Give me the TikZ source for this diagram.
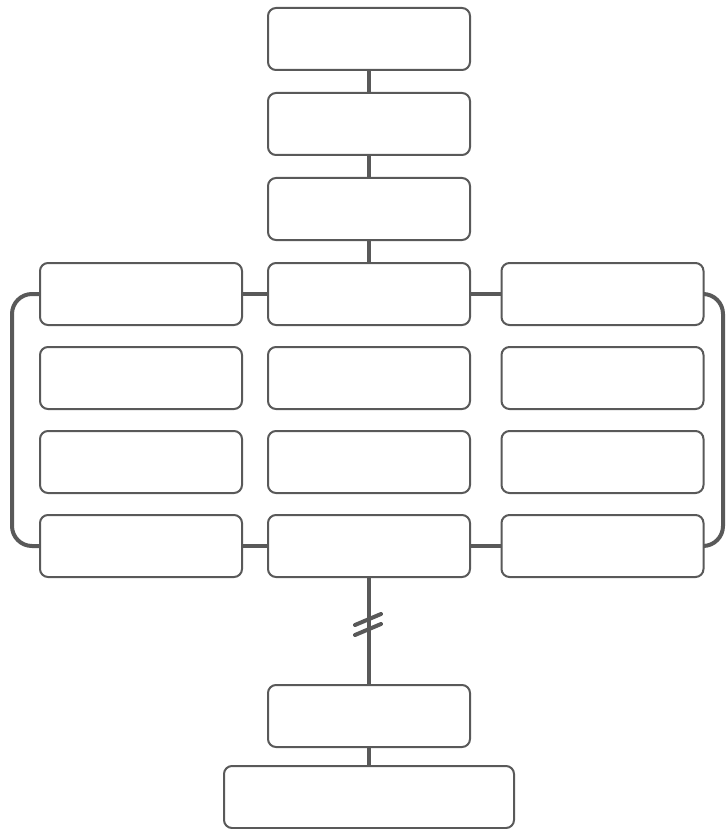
\documentclass[tikz,border=0pt]{standalone}
\usetikzlibrary{positioning,backgrounds}
\definecolor{linegray}{HTML}{595959}
\tikzset{
  stage/.style={draw=linegray, line width=2pt, rounded corners=8pt, fill=white,
    minimum width=202pt, minimum height=62pt, inner sep=0pt},
  widestage/.style={stage, minimum width=290pt},
  link/.style={draw=linegray, line width=4pt},
  bracket/.style={link, rounded corners=20pt}
}
\begin{document}
\begin{tikzpicture}[x=1pt, y=-1pt]
  \useasboundingbox (0,0) rectangle (726,829);
  % centre column
  \node[stage] (c1) at (369,39) {};
  \node[stage] (c2) at (369,124) {};
  \node[stage] (c3) at (369,209) {};
  \node[stage] (m1) at (369,294) {};
  \node[stage] (m2) at (369,378) {};
  \node[stage] (m3) at (369,462) {};
  \node[stage] (m4) at (369,546) {};
  \node[stage] (b1) at (369,716) {};
  \node[widestage] (b2) at (369,797) {};
  % side columns
  \foreach \i/\y in {1/294, 2/378, 3/462, 4/546} {
    \node[stage] (l\i) at (141,\y) {};
    \node[stage] (r\i) at (602.5,\y) {};
  }
  \coordinate (brk) at (368,620);
  % links behind the boxes
  \begin{scope}[on background layer]
    \draw[link] (c1) -- (c2);
    \draw[link] (c2) -- (c3);
    \draw[link] (c3) -- (m1);
    \draw[link] (l1) -- (m1);
    \draw[link] (m1) -- (r1);
    \draw[link] (l4) -- (m4);
    \draw[link] (m4) -- (r4);
    \draw[link] (m4) -- (b1);
    \draw[link] (b1) -- (b2);
    \draw[bracket] (l1.west) -| (12,546) -- (l4.west);
    \draw[bracket] (r1.east) -| (723,546) -- (r4.east);
  \end{scope}
  % break marks
  \draw[link, line cap=round] ([shift={(-13,5)}]brk) -- ([shift={(13,-6)}]brk);
  \draw[link, line cap=round] ([shift={(-13,15)}]brk) -- ([shift={(13,4)}]brk);
\end{tikzpicture}
\end{document}
